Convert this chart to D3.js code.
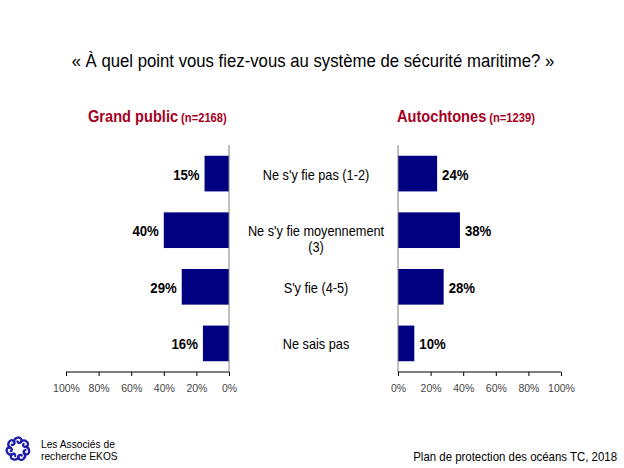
<!DOCTYPE html>
<html>
<head>
<meta charset="utf-8">
<script src="https://cdn.jsdelivr.net/npm/d3@7"></script>
<style>
  body { margin: 0; background: #fff; }
  svg { display: block; }
</style>
</head>
<body>
<div id="chart"></div>
<script>
// data
const categories = ["Ne s'y fie pas (1-2)", "Ne s'y fie moyennement (3)", "S'y fie (4-5)", "Ne sais pas"];
const categoryLines = [["Ne s'y fie pas (1-2)"], ["Ne s'y fie moyennement", "(3)"], ["S'y fie (4-5)"], ["Ne sais pas"]];
const grandPublic = [15, 40, 29, 16];
const autochtones = [24, 38, 28, 10];
const ticks = [0, 20, 40, 60, 80, 100];

const width = 624, height = 468;
const sans = "'Liberation Sans', Arial, sans-serif";
const barColor = "#000080";
const red = "#A50021";

const svg = d3.select("#chart").append("svg")
    .attr("width", width)
    .attr("height", height);

// text squeezed horizontally (the original uses Arial Narrow)
function label(parent, x, y, str, size, f, anchor, weight, fill) {
    return parent.append("g")
        .attr("transform", `translate(${x},${y}) scale(${f},1)`)
        .append("text")
        .attr("text-anchor", anchor || "start")
        .attr("font-family", sans)
        .attr("font-size", size)
        .attr("font-weight", weight || "normal")
        .attr("fill", fill || "#000")
        .text(str);
}

// title
label(svg, 313, 67, "« À quel point vous fiez-vous au système de sécurité maritime? »", 18, 0.93, "middle");

// y band shared by both panels
const y = d3.scaleBand()
    .domain(categories)
    .range([145, 372])
    .paddingInner(0.37)
    .paddingOuter(0.19);

const xLeft = d3.scaleLinear().domain([0, 100]).range([229, 66]);
const xRight = d3.scaleLinear().domain([0, 100]).range([398, 561]);

function panel(values, x, side, name, n, hx) {
    const g = svg.append("g");

    // bars
    g.selectAll("rect")
        .data(values)
        .enter()
        .append("rect")
        .attr("x", d => Math.min(x(0), x(d)))
        .attr("y", (d, i) => y(categories[i]))
        .attr("width", d => Math.abs(x(d) - x(0)))
        .attr("height", y.bandwidth())
        .attr("fill", barColor);

    // value labels
    values.forEach((d, i) => {
        label(g,
            side === "left" ? x(d) - 5 : x(d) + 5,
            y(categories[i]) + y.bandwidth() / 2 + 6,
            d + "%", 15, 0.88, side === "left" ? "end" : "start", "bold");
    });

    // vertical axis line
    g.append("line")
        .attr("x1", x(0)).attr("x2", x(0))
        .attr("y1", 145).attr("y2", 372)
        .attr("stroke", "#808080")
        .attr("stroke-width", 1);

    // bottom axis
    const axis = d3.axisBottom(x)
        .tickValues(ticks)
        .tickSize(4)
        .tickFormat(d => d + "%");
    const ax = g.append("g")
        .attr("transform", "translate(0,372)")
        .call(axis);
    ax.select(".domain").attr("stroke", "#000").attr("d", `M${x.range()[0]},0H${x.range()[1]}`);
    ax.selectAll(".tick line").attr("stroke", "#000");
    ax.selectAll(".tick text")
        .attr("font-family", sans)
        .attr("font-size", 10.5)
        .attr("fill", "#444")
        .attr("y", 20)
        .attr("dy", 0);

    // panel header
    const t1 = label(g, hx, 122, name, 17, 0.86, "start", "bold", red);
    const w1 = t1.node().getComputedTextLength() * 0.86;
    label(g, hx + w1 + 3, 122, "(n=" + n + ")", 13, 0.86, "start", "bold", red);
}

panel(grandPublic, xLeft, "left", "Grand public", 2168, 88);
panel(autochtones, xRight, "right", "Autochtones", 1239, 397);

// category labels in the middle
const cat = svg.append("g");
categoryLines.forEach((lines, i) => {
    const cy = y(categories[i]) + y.bandwidth() / 2;
    lines.forEach((l, j) => {
        label(cat, 316, cy + 6 + j * 16, l, 14, 0.91, "middle");
    });
});

// footer
label(svg, 617, 461, "Plan de protection des océans TC, 2018", 13, 0.88, "end");
label(svg, 41, 448, "Les Associés de", 11, 0.93);
label(svg, 41, 460, "recherche EKOS", 11, 0.93);

// logo: ring of small blue swirls
const logo = svg.append("g").attr("transform", "translate(18,449)");
d3.range(7).forEach(k => {
    const a = k * 360 / 7;
    const sw = logo.append("g").attr("transform", `rotate(${a}) translate(0,-8)`);
    sw.append("path")
        .attr("d", "M-4,1 C-4,-4 3,-5 3.5,-1 C4,2 0,3 -0.5,0.5")
        .attr("fill", "none")
        .attr("stroke", "#1c1caa")
        .attr("stroke-width", 2.3)
        .attr("stroke-linecap", "round");
});
</script>
</body>
</html>
